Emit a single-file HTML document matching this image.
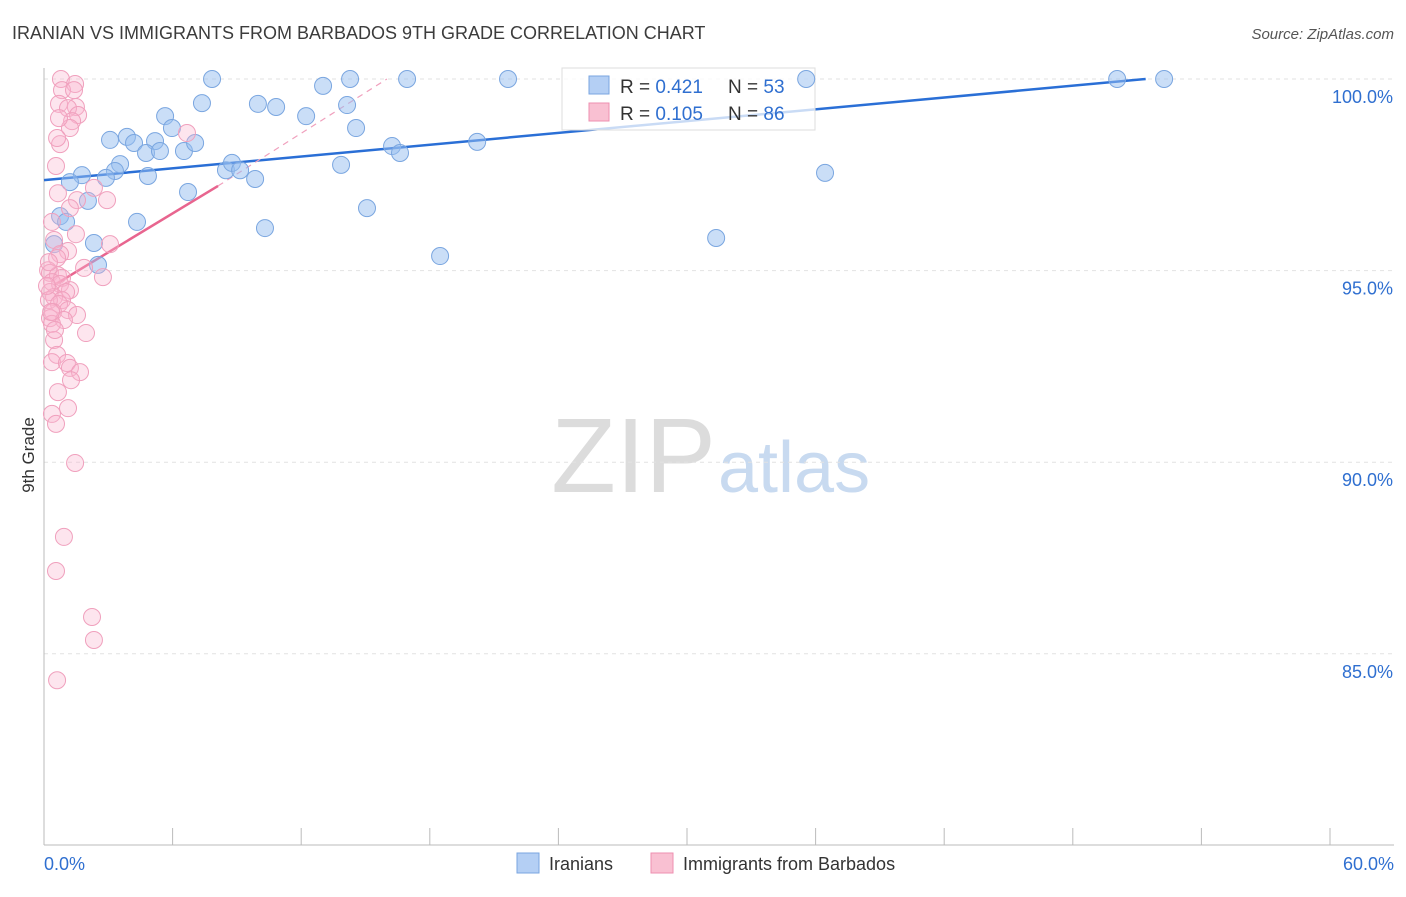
<!DOCTYPE html>
<html><head><meta charset="utf-8"><style>
body{margin:0;background:#fff;font-family:"Liberation Sans",sans-serif;}
svg text{font-family:"Liberation Sans",sans-serif;}
</style></head><body>
<svg id="c" width="1406" height="892">
<text x="12" y="39" font-size="18" fill="#3c3c3c">IRANIAN VS IMMIGRANTS FROM BARBADOS 9TH GRADE CORRELATION CHART</text>
<text x="1394" y="39" font-size="15" fill="#555" text-anchor="end" font-style="italic">Source: ZipAtlas.com</text>
<text x="34" y="455" font-size="17" fill="#333" transform="rotate(-90 34 455)" text-anchor="middle">9th Grade</text>
<text x="716" y="492" font-size="106" fill="#dcdcdc" text-anchor="end" font-family="Liberation Serif">ZIP</text>
<text x="718" y="492" font-size="72" fill="#c8daf0">atlas</text>
<g id="grid"></g>
<g id="lines"></g>
<g>
<rect x="562" y="68" width="253" height="62" fill="rgba(255,255,255,0.75)" stroke="#ddd"/>
<rect x="589" y="76" width="20" height="18" fill="#b4cff4" stroke="#7aa6e0"/>
<rect x="589" y="103" width="20" height="18" fill="#f9c0d2" stroke="#ee8fb0"/>
<text x="620" y="93" font-size="19" fill="#333">R = <tspan fill="#2f6fd0">0.421</tspan></text>
<text x="728" y="93" font-size="19" fill="#333">N = <tspan fill="#2f6fd0">53</tspan></text>
<text x="620" y="120" font-size="19" fill="#333">R = <tspan fill="#2f6fd0">0.105</tspan></text>
<text x="728" y="120" font-size="19" fill="#333">N = <tspan fill="#2f6fd0">86</tspan></text>
</g>
<g id="marks"></g>
<g>
<rect x="517" y="853" width="22" height="20" fill="#b4cff4" stroke="#7aa6e0"/>
<text x="549" y="870" font-size="18" fill="#333">Iranians</text>
<rect x="651" y="853" width="22" height="20" fill="#f9c0d2" stroke="#ee8fb0"/>
<text x="683" y="870" font-size="18" fill="#333">Immigrants from Barbados</text>
</g>
</svg>
<script>
const xTicks=[0,6,12,18,24,30,36,42,48,54,60];
const yTicks=[85,90,95,100];
const blueX=[7.84,14.28,16.94,21.65,35.56,50.07,52.26,13.02,5.65,7.37,9.98,10.83,14.14,12.23,5.97,14.56,3.87,3.08,4.20,5.18,4.76,5.41,6.53,7.05,16.24,16.61,20.21,3.55,3.31,2.89,1.77,1.21,4.85,8.49,8.77,9.15,9.85,13.86,6.72,36.44,2.05,0.75,1.03,4.34,15.07,10.31,31.36,2.33,0.47,18.48,2.52];
const blueY=[100,100,100,100,100,100,100,99.82,99.03,99.37,99.35,99.27,99.32,99.03,98.72,98.72,98.49,98.41,98.33,98.38,98.07,98.12,98.12,98.33,98.25,98.07,98.36,97.78,97.60,97.42,97.49,97.31,97.47,97.62,97.81,97.62,97.39,97.76,97.05,97.55,96.82,96.42,96.27,96.27,96.63,96.11,95.85,95.72,95.69,95.38,95.15];
const pinkX=[0.79,1.45,0.84,1.40,0.70,1.49,1.12,1.59,1.31,1.21,0.70,0.75,0.61,0.56,6.67,2.33,0.65,1.54,2.94,1.21,0.37,1.49,0.47,3.08,1.12,0.75,0.61,1.87,0.19,0.28,0.65,0.84,2.75,0.37,0.75,1.21,0.28,1.03,0.47,0.84,0.23,0.70,1.12,0.42,1.54,0.28,0.93,0.37,1.96,0.47,0.61,0.37,1.07,1.21,1.68,1.26,0.65,1.12,0.37,0.56,1.45,0.93,0.56,2.24,2.33,0.61,0.33,0.51,0.14,0.23];
const pinkY=[100,99.87,99.71,99.71,99.35,99.27,99.24,99.06,98.90,98.72,98.98,98.30,98.46,97.73,98.59,97.16,97.02,96.84,96.84,96.63,96.27,95.95,95.80,95.69,95.51,95.43,95.33,95.07,95.01,94.94,94.88,94.81,94.83,94.70,94.65,94.49,94.44,94.44,94.31,94.23,94.23,94.13,93.97,93.92,93.84,93.76,93.71,93.61,93.37,93.19,92.80,92.61,92.59,92.46,92.35,92.14,91.83,91.41,91.26,91.00,89.98,88.05,87.16,85.96,85.36,84.31,93.92,93.45,94.60,95.22];
const blueTrend=[0,97.36,51.4,100];
const pinkTrend=[0.47,94.62,8.12,97.21,16,100];
const NS='http://www.w3.org/2000/svg';
const X=v=>44+v/60*1286, Y=v=>79+(100-v)*38.32;
function mk(t,a,p){const e=document.createElementNS(NS,t);for(const k in a)e.setAttribute(k,a[k]);p.appendChild(e);return e;}
const g=document.getElementById('grid'), m=document.getElementById('marks'), ln=document.getElementById('lines');
yTicks.forEach(v=>{
 const l=mk('line',{x1:44,x2:1394,y1:Y(v),y2:Y(v),stroke:'#e2e2e2','stroke-dasharray':'4 4'},g);
 
 
 const t=mk('text',{x:1393,y:Y(v)+24,'font-size':18,fill:'#2f6fd0','text-anchor':'end'},g);t.textContent=v.toFixed(1)+'%';
 
 
});
mk('line',{x1:44,x2:1394,y1:845,y2:845,stroke:'#bbb'},g);
mk('line',{x1:44,x2:44,y1:68,y2:845,stroke:'#bbb'},g);
xTicks.forEach(v=>{
 const l=mk('line',{x1:X(v),x2:X(v),y1:828,y2:845,stroke:'#bbb'},g);
 
 
});
[[0,'0.0%','start',44],[60,'60.0%','end',1394]].forEach(a=>{
 const t=mk('text',{x:a[3],y:870,'font-size':18,fill:'#2f6fd0','text-anchor':a[2]},g);t.textContent=a[1];
 
 
});
blueX.forEach((x,i)=>{
 const c=mk('circle',{cx:X(x),cy:Y(blueY[i]),r:8.5,fill:'rgba(150,190,240,0.5)',stroke:'#7aa6e0','stroke-width':1},m);
 
 
});
pinkX.forEach((x,i)=>{
 const c=mk('circle',{cx:X(x),cy:Y(pinkY[i]),r:8.5,fill:'rgba(248,180,205,0.35)',stroke:'#f0a0bd','stroke-width':1},m);
 
 
});
const bl=mk('line',{x1:X(blueTrend[0]),y1:Y(blueTrend[1]),x2:X(blueTrend[2]),y2:Y(blueTrend[3]),stroke:'#2a6fd6','stroke-width':2.5},ln);


const pl=mk('line',{x1:X(pinkTrend[0]),y1:Y(pinkTrend[1]),x2:X(pinkTrend[2]),y2:Y(pinkTrend[3]),stroke:'#e8658f','stroke-width':2.5},ln);


const pd=mk('line',{x1:X(pinkTrend[2]),y1:Y(pinkTrend[3]),x2:X(pinkTrend[4]),y2:Y(pinkTrend[5]),stroke:'#f0a0bd','stroke-width':1.2,'stroke-dasharray':'6 5'},ln);


</script>
</body></html>
